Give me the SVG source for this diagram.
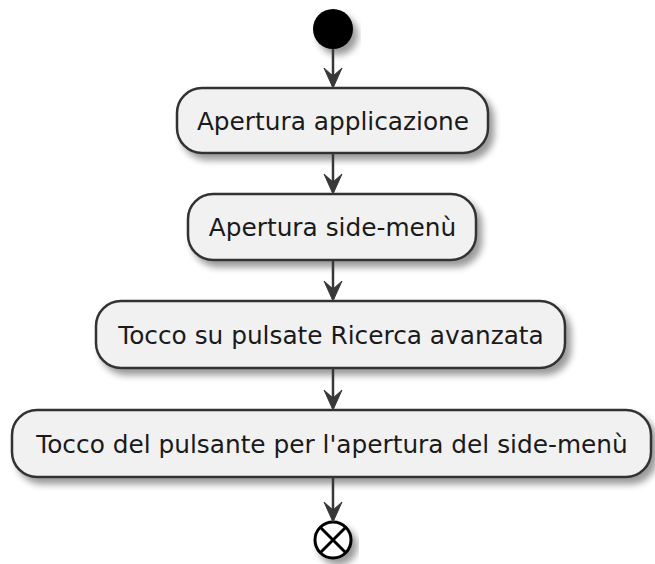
<svg xmlns="http://www.w3.org/2000/svg" width="655" height="564" viewBox="0 0 655 564">
<defs>
<filter id="sh" x="-20%" y="-20%" width="140%" height="160%">
<feGaussianBlur in="SourceAlpha" stdDeviation="3.5"/>
<feOffset dx="5" dy="6" result="b"/>
<feComponentTransfer><feFuncA type="linear" slope="0.4"/></feComponentTransfer>
<feMerge><feMergeNode/><feMergeNode in="SourceGraphic"/></feMerge>
</filter>
</defs>
<style>
.box{fill:#F1F1F1;stroke:#333;stroke-width:2.5;filter:url(#sh)}
.t{font-family:"DejaVu Sans",sans-serif;font-size:24.8px;fill:#1a1a1a;text-anchor:middle}
.ln{stroke:#383838;stroke-width:2.5;fill:none}
.ah{fill:#383838;stroke:#383838;stroke-width:1}
</style>
<rect width="655" height="564" fill="#fff"/>
<g id="start"><circle cx="333" cy="29" r="20" fill="#000" filter="url(#sh)"/></g>
<g id="n1"><rect class="box" x="177" y="88" width="311" height="65" rx="25"/><text class="t" x="333" y="130">Apertura applicazione</text></g>
<g id="n2"><rect class="box" x="188" y="194" width="288" height="66" rx="25"/><text class="t" x="332.5" y="236">Apertura side-menù</text></g>
<g id="n3"><rect class="box" x="96" y="301" width="469" height="67" rx="25"/><text class="t" x="331" y="344">Tocco su pulsate Ricerca avanzata</text></g>
<g id="n4"><rect class="box" x="12" y="410" width="639" height="67" rx="25"/><text class="t" x="332" y="453">Tocco del pulsante per l'apertura del side-menù</text></g>
<g id="end" filter="url(#sh)"><circle cx="333" cy="540" r="18" fill="#fff" stroke="#000" stroke-width="3"/><path d="M320.5,527.5 L345.5,552.5 M345.5,527.5 L320.5,552.5" stroke="#000" stroke-width="3"/></g>
<g id="connectors">
<path class="ln" d="M333,49 V86"/><path class="ah" d="M333,88 L324,68 L333,76 L342,68 Z"/>
<path class="ln" d="M333,153 V192"/><path class="ah" d="M333,194 L324,174 L333,182 L342,174 Z"/>
<path class="ln" d="M333,260 V299"/><path class="ah" d="M333,301 L324,281 L333,289 L342,281 Z"/>
<path class="ln" d="M333,368 V408"/><path class="ah" d="M333,410 L324,390 L333,398 L342,390 Z"/>
<path class="ln" d="M333,477 V520"/><path class="ah" d="M333,522 L324,502 L333,510 L342,502 Z"/>
</g>
</svg>
